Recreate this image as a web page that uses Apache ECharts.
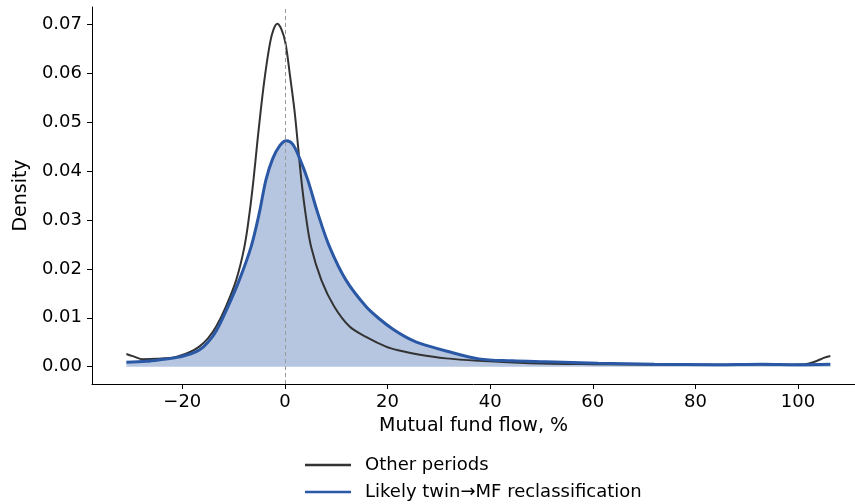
<!DOCTYPE html>
<html>
<head>
<meta charset="utf-8">
<script src="https://cdn.jsdelivr.net/npm/echarts@6/dist/echarts.min.js"></script>
<style>html,body{margin:0;padding:0;background:#fff}#c{width:855px;height:504px}</style>
</head>
<body>
<div id="c"></div>
<script>
// Other periods (KDE)
var otherX = [-30.9,-29.5,-27.7,-25,-21.2,-18.5,-16.7,-15,-13.4,-11.5,-9.5,-7.9,-6.9,-6.1,-5.4,-4.7,-3.9,-2.9,-2.2,-1.5,-0.7,0.1,1.0,1.85,2.5,3.2,4.0,5.1,7.1,9.6,12.6,15.8,19.7,22.3,26,31.4,37.8,47.6,60,75,85,92,97,101.4,103.5,105,106.3];
var otherY = [0.0026,0.0021,0.0015,0.0016,0.0020,0.0030,0.0041,0.0058,0.0082,0.0123,0.0177,0.0245,0.0314,0.0385,0.0457,0.0525,0.0594,0.0662,0.0690,0.0701,0.0690,0.0662,0.0594,0.0525,0.0457,0.0382,0.0314,0.0245,0.0177,0.0123,0.0082,0.0061,0.0041,0.0033,0.0025,0.0017,0.0012,0.0007,0.0005,0.0004,0.0004,0.0005,0.0004,0.0005,0.0011,0.0018,0.0022];
// Likely twin->MF reclassification (KDE)
var twinX = [-30.9,-27,-24.4,-21,-18.5,-16.7,-15,-13.4,-11.1,-8.9,-6.6,-5.0,-3.7,-2.4,-1.0,0.3,1.5,2.9,4.45,6.4,8.7,11.9,15.8,18.5,21.0,23.5,26.2,31.4,37.8,44.3,50.8,61,72,84,93,100,106.3];
var twinY = [0.0009,0.0011,0.0014,0.0019,0.0026,0.0034,0.0050,0.0073,0.0123,0.0177,0.0245,0.0314,0.0382,0.0425,0.0452,0.0462,0.0455,0.0425,0.0382,0.0314,0.0245,0.0177,0.0123,0.0097,0.0077,0.0061,0.0048,0.0032,0.0016,0.0012,0.0010,0.0007,0.0005,0.0004,0.0005,0.0004,0.0005];
var xTicks = [-20,0,20,40,60,80,100];
var yTicks = [0,0.01,0.02,0.03,0.04,0.05,0.06,0.07];

function pairs(xs, ys){ return xs.map(function(x,i){ return [x, ys[i]]; }); }
var FONT = 'DejaVu Sans';
var chart = echarts.init(document.getElementById('c'), null, {renderer:'canvas'});
chart.setOption({
  animation: false,
  backgroundColor: '#fff',
  grid: {left: 92, right: 0, top: 7, bottom: 120, containLabel: false},
  xAxis: {
    type: 'value', min: -37.6, max: 111.1,
    name: 'Mutual fund flow, %', nameLocation: 'middle', nameGap: 33,
    nameTextStyle: {fontFamily: FONT, fontSize: 19, color: '#000'},
    axisLine: {show: true, onZero: false, lineStyle: {color: '#000', width: 1}},
    axisTick: {show: true, length: 5, inside: false, customValues: xTicks, lineStyle: {color: '#000'}},
    axisLabel: {customValues: xTicks, margin: 9, fontFamily: FONT, fontSize: 18, color: '#000',
      formatter: function(v){ return v < 0 ? '\u2212' + Math.abs(v) : String(v); }},
    splitLine: {show: false}
  },
  yAxis: {
    type: 'value', min: -0.00354, max: 0.07354,
    name: 'Density', nameLocation: 'middle', nameGap: 56, nameRotate: 90,
    nameTextStyle: {fontFamily: FONT, fontSize: 19, color: '#000'},
    axisLine: {show: true, onZero: false, lineStyle: {color: '#000', width: 1}},
    axisTick: {show: true, length: 5, customValues: yTicks, lineStyle: {color: '#000'}},
    axisLabel: {customValues: yTicks, margin: 10, fontFamily: FONT, fontSize: 18, color: '#000',
      formatter: function(v){ return v.toFixed(2); }},
    splitLine: {show: false}
  },
  legend: {
    orient: 'vertical', left: 305, top: 456, padding: 0,
    data: [
      {name: 'Other periods', icon: 'rect'},
      {name: 'Likely twin\u2192MF reclassification', icon: 'rect'}
    ],
    itemWidth: 46, itemHeight: 2.6, itemGap: 9,
    textStyle: {fontFamily: FONT, fontSize: 18, color: '#000', padding: [0,0,0,9], lineHeight: 18}
  },
  series: [
    {
      name: 'fill', type: 'line', data: pairs(twinX, twinY), smooth: 0.35,
      symbol: 'none', lineStyle: {width: 0},
      areaStyle: {color: '#b6c6e0', opacity: 1, origin: 'auto'},
      silent: true, z: 1,
      markLine: {
        silent: true, symbol: ['none','none'], label: {show: false},
        lineStyle: {color: '#9a9a9a', type: [4,3], width: 1},
        data: [{xAxis: 0}]
      }
    },
    {
      name: 'Other periods', type: 'line', data: pairs(otherX, otherY), smooth: 0.35,
      symbol: 'none', lineStyle: {color: '#333333', width: 2}, itemStyle: {color: '#333333'}, z: 3
    },
    {
      name: 'Likely twin\u2192MF reclassification', type: 'line', data: pairs(twinX, twinY), smooth: 0.35,
      symbol: 'none', lineStyle: {color: '#2a58a5', width: 3}, itemStyle: {color: '#2a58a5'}, z: 4
    }
  ]
});
</script>
</body>
</html>
